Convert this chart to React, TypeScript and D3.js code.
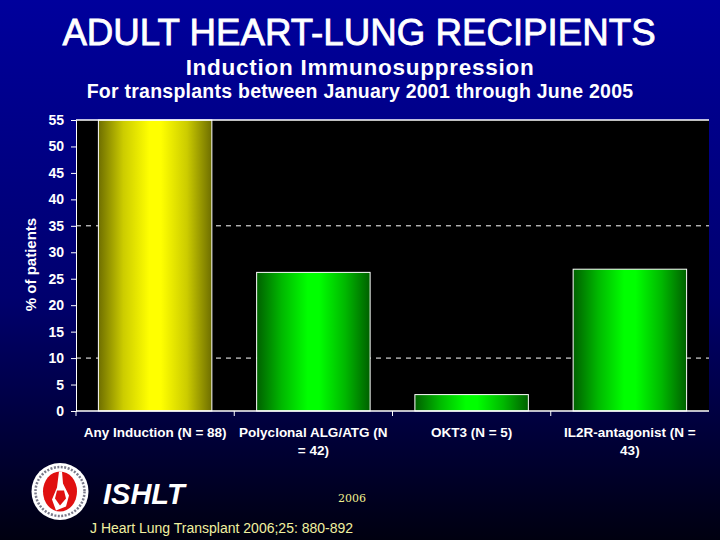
import React, { useEffect, useRef } from 'react';
import * as d3 from 'd3';

const categories = ['Any Induction (N = 88)', 'Polyclonal ALG/ATG (N = 42)', 'OKT3 (N = 5)', 'IL2R-antagonist (N = 43)'];
const categoryLines = [['Any Induction (N = 88)'], ['Polyclonal ALG/ATG (N', '= 42)'], ['OKT3 (N = 5)'], ['IL2R-antagonist (N =', '43)']];
const values = [55, 26.2, 3.1, 26.8];
const barTones = ['yellow', 'green', 'green', 'green'];
const yTicks = [0, 5, 10, 15, 20, 25, 30, 35, 40, 45, 50, 55];
const gridValues = [10, 35];

const FONT = '"Liberation Sans", Arial, sans-serif';

export default function App() {
  const svgRef = useRef<SVGSVGElement>(null);

  useEffect(() => {
    if (!svgRef.current) return;
    const svg = d3.select(svgRef.current);
    svg.selectAll('*').remove();

    const defs = svg.append('defs');
    const bg = defs.append('linearGradient').attr('id', 'bg').attr('x1', 0).attr('y1', 0).attr('x2', 0).attr('y2', 1);
    bg.append('stop').attr('offset', '0%').attr('stop-color', '#00009c');
    bg.append('stop').attr('offset', '55%').attr('stop-color', '#00006e');
    bg.append('stop').attr('offset', '100%').attr('stop-color', '#000010');

    const tones: Record<string, string[]> = {
      yellow: ['#6e6e00', '#cccc00', '#ffff00'],
      green: ['#006000', '#00b800', '#00ff00'],
    };
    Object.entries(tones).forEach(([name, [edge, soft, mid]]) => {
      const g = defs.append('linearGradient').attr('id', `bar-${name}`).attr('x1', 0).attr('y1', 0).attr('x2', 1).attr('y2', 0);
      g.append('stop').attr('offset', '0%').attr('stop-color', edge);
      g.append('stop').attr('offset', '22%').attr('stop-color', soft);
      g.append('stop').attr('offset', '45%').attr('stop-color', mid);
      g.append('stop').attr('offset', '55%').attr('stop-color', mid);
      g.append('stop').attr('offset', '78%').attr('stop-color', soft);
      g.append('stop').attr('offset', '100%').attr('stop-color', edge);
    });

    svg.append('rect').attr('width', 720).attr('height', 540).attr('fill', 'url(#bg)');

    const left = 76, right = 709, top = 120, bottom = 411;

    const x = d3.scaleBand().domain(categories).range([left, right]).paddingInner(0.283).paddingOuter(0.1415);
    const y = d3.scaleLinear().domain([0, 55]).range([bottom, top]);

    svg.append('rect').attr('x', left).attr('y', top).attr('width', right - left).attr('height', bottom - top).attr('fill', '#000');

    svg.selectAll('line.grid')
      .data(gridValues)
      .join('line')
      .attr('class', 'grid')
      .attr('x1', left).attr('x2', right)
      .attr('y1', d => y(d)).attr('y2', d => y(d))
      .attr('stroke', '#fff').attr('stroke-dasharray', '5 5');

    svg.selectAll('rect.bar')
      .data(values)
      .join('rect')
      .attr('class', 'bar')
      .attr('x', (_, i) => x(categories[i])!)
      .attr('y', d => y(d))
      .attr('width', x.bandwidth())
      .attr('height', d => bottom - y(d))
      .attr('fill', (_, i) => `url(#bar-${barTones[i]})`)
      .attr('stroke', '#fff')
      .attr('stroke-width', 1);

    // Axes
    const yAxis = svg.append('g')
      .attr('transform', `translate(${left},0)`)
      .call(d3.axisLeft(y).tickValues(yTicks).tickSize(5).tickPadding(7));
    yAxis.selectAll('text').attr('fill', '#fff').style('font', `bold 14px ${FONT}`);
    yAxis.selectAll('line,path').attr('stroke', '#fff');

    const step = x.step();
    const xAxis = svg.append('g');
    xAxis.append('line').attr('x1', left).attr('x2', right).attr('y1', bottom).attr('y2', bottom).attr('stroke', '#fff').attr('stroke-width', 1.5);
    xAxis.append('line').attr('x1', left).attr('x2', right).attr('y1', top).attr('y2', top).attr('stroke', '#fff').attr('stroke-width', 1.5);
    xAxis.selectAll('line.tick')
      .data(categories)
      .join('line')
      .attr('class', 'tick')
      .attr('x1', (_, i) => left + step * i).attr('x2', (_, i) => left + step * i)
      .attr('y1', bottom).attr('y2', bottom + 5)
      .attr('stroke', '#fff');

    const labels = svg.selectAll('text.cat')
      .data(categoryLines)
      .join('text')
      .attr('class', 'cat')
      .attr('text-anchor', 'middle')
      .attr('fill', '#fff')
      .style('font', `bold 13.5px ${FONT}`);
    labels.each(function (lines, i) {
      const cx = x(categories[i])! + x.bandwidth() / 2;
      d3.select(this).selectAll('tspan')
        .data(lines)
        .join('tspan')
        .attr('x', cx)
        .attr('y', (_, j) => 437 + j * 17.5)
        .text(d => d);
    });

    svg.append('text')
      .attr('transform', 'translate(36,264.5) rotate(-90)')
      .attr('text-anchor', 'middle')
      .attr('fill', '#fff')
      .style('font', `bold 15px ${FONT}`)
      .text('% of patients');

    // Titles
    svg.append('text').attr('x', 359).attr('y', 45).attr('text-anchor', 'middle').attr('fill', '#fff')
      .attr('stroke', '#fff').attr('stroke-width', 0.8)
      .style('font', `36.7px ${FONT}`).text('ADULT HEART-LUNG RECIPIENTS');
    svg.append('text').attr('x', 360).attr('y', 75).attr('text-anchor', 'middle').attr('fill', '#fff')
      .attr('letter-spacing', 0.74)
      .style('font', `bold 22.5px ${FONT}`).text('Induction Immunosuppression');
    svg.append('text').attr('x', 360).attr('y', 98).attr('text-anchor', 'middle').attr('fill', '#fff')
      .attr('letter-spacing', 0.25)
      .style('font', `bold 19.5px ${FONT}`).text('For transplants between January 2001 through June 2005');

    // Footer
    svg.append('text').attr('x', 103).attr('y', 504).attr('fill', '#fff')
      .style('font', `italic bold 29px ${FONT}`).text('ISHLT');
    svg.append('text').attr('x', 338).attr('y', 502).attr('fill', '#f0f090')
      .style('font', '11px "DejaVu Serif", serif').text('2006');
    svg.append('text').attr('x', 90).attr('y', 533).attr('fill', '#f0f0a0')
      .style('font', `14px ${FONT}`).text('J Heart Lung Transplant 2006;25: 880-892');

    // Society logo
    const logo = svg.append('g').attr('transform', 'translate(60,491.5)');
    logo.append('circle').attr('r', 28.5).attr('fill', '#fff');
    logo.append('circle').attr('r', 24.5).attr('fill', 'none').attr('stroke', '#7a7a8a').attr('stroke-width', 2.5).attr('stroke-dasharray', '2 1.5');
    logo.append('ellipse').attr('cx', 0).attr('cy', 0).attr('rx', 17).attr('ry', 20).attr('fill', '#e01010');
    logo.append('path').attr('d', 'M-1,-20 L2,-20 L3,-8 L9,4 L6,15 L-4,19 L-8,8 L-3,-4 Z').attr('fill', '#fff');
    logo.append('path').attr('d', 'M-3,-1 L4,-1 L6,7 L0,14 L-5,7 Z').attr('fill', '#e01010');
  }, []);

  return <svg ref={svgRef} width={720} height={540} style={{ position: 'absolute', left: 0, top: 0 }} />;
}
